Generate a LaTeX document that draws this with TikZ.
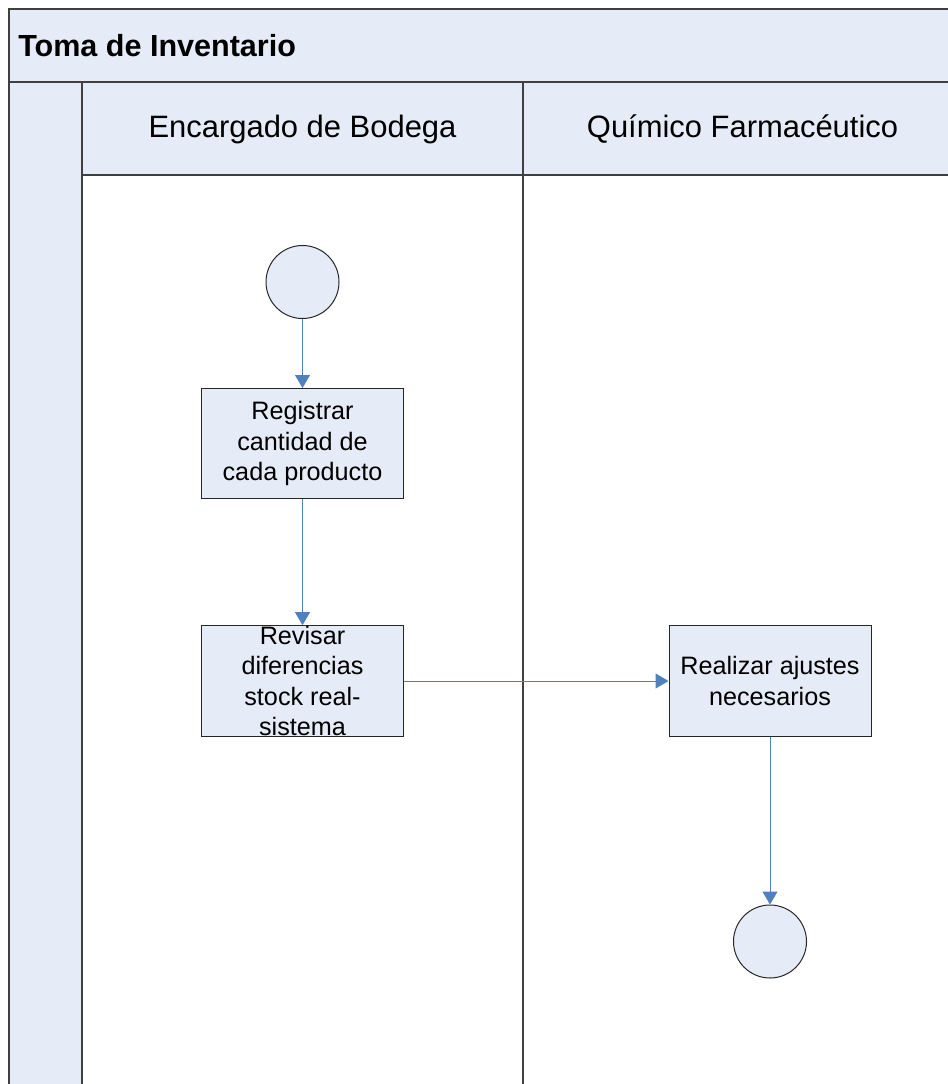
\documentclass[tikz,border=0pt]{standalone}
\usepackage{fontspec}
\setmainfont{Liberation Sans}
\usetikzlibrary{arrows.meta}
\definecolor{lanefill}{RGB}{230,236,247}
\definecolor{framecol}{RGB}{64,64,64}
\definecolor{flowcol}{RGB}{79,129,189}
\tikzset{
  frameline/.style={draw=framecol, line width=1.5pt},
  activity/.style={rectangle, draw=black!85, line width=0.75pt, fill=lanefill,
    minimum width=151.5pt, minimum height=83pt, inner sep=0pt, align=center,
    font=\fontsize{18.9pt}{22.9pt}\selectfont},
  event/.style={circle, draw=black!85, line width=0.75pt, fill=lanefill,
    minimum size=54.75pt, inner sep=0pt},
  lanetitle/.style={anchor=base, inner sep=0pt, font=\fontsize{23.2pt}{27pt}\selectfont},
  flow/.style={draw=flowcol, line width=0.75pt,
    -{Triangle[length=9.75pt,width=11.25pt]}},
}
\begin{document}
\begin{tikzpicture}[x=0.75pt,y=-0.75pt]
\useasboundingbox (0,0) rectangle (948,1084);
\clip (0,0) rectangle (948,1084);
% pool background: title band, label strip and lane headers
\fill[lanefill] (9,9) rectangle (970,82);
\fill[lanefill] (9,82) rectangle (82,1100);
\fill[lanefill] (82,82) rectangle (970,175);
% pool and lane borders
\draw[frameline] (970,9) -- (9,9) -- (9,1100);
\draw[frameline] (9,82) -- (970,82);
\draw[frameline] (82,82) -- (82,1100);
\draw[frameline] (82,175) -- (970,175);
\draw[frameline] (523,82) -- (523,1100);
% titles
\node[anchor=base west, inner sep=0pt, font=\fontsize{22.9pt}{27pt}\selectfont\bfseries]
  (pool) at (18,57) {Toma de Inventario};
\node[lanetitle] (lane1) at (302.5,138) {Encargado de Bodega};
\node[lanetitle] (lane2) at (742.5,138) {Químico Farmacéutico};
% flow
\node[event] (start) at (302.5,282) {};
\node[activity, minimum height=82.5pt] (reg) at (302.5,443.5) {Registrar\\cantidad de\\cada producto};
\node[activity] (rev) at (302.5,681) {Revisar\\diferencias\\stock real-\\sistema};
\node[activity] (aju) at (770,681) {Realizar ajustes\\necesarios};
\node[event] (fin) at (770,941.5) {};
\draw[flow] (start) -- (reg);
\draw[flow] (reg) -- (rev);
\draw[flow] (rev) -- (aju);
\draw[flow] (aju) -- (fin);
\end{tikzpicture}
\end{document}
